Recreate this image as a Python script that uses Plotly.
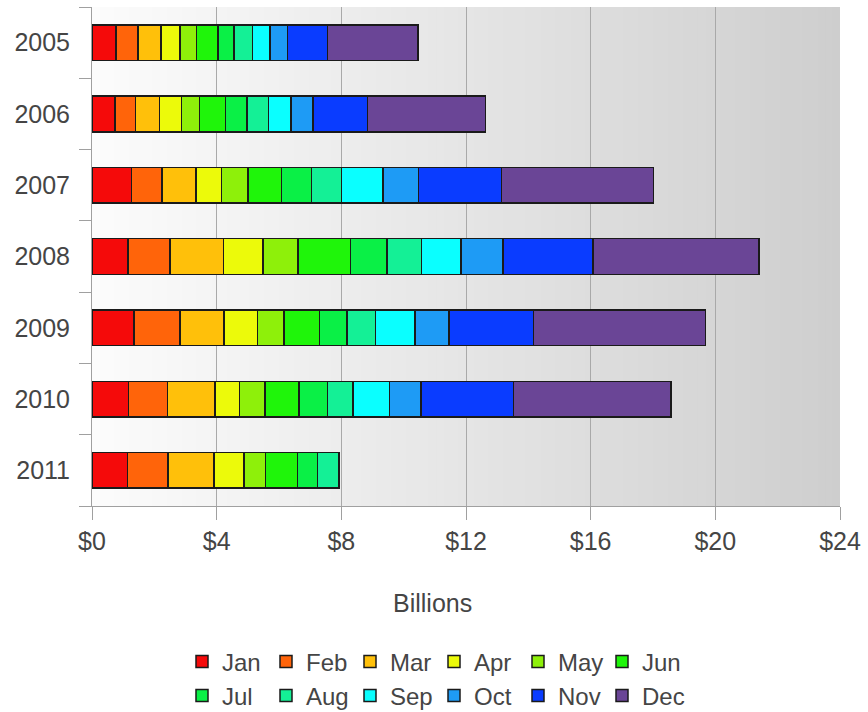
import plotly.graph_objects as go

years = ["2005", "2006", "2007", "2008", "2009", "2010", "2011"]
months = ["Jan", "Feb", "Mar", "Apr", "May", "Jun", "Jul", "Aug", "Sep", "Oct", "Nov", "Dec"]

# monthly values (billions) per year, Jan..Dec
v2005 = [0.77, 0.71, 0.73, 0.62, 0.52, 0.69, 0.51, 0.60, 0.56, 0.56, 1.29, 2.90]
v2006 = [0.74, 0.66, 0.77, 0.70, 0.58, 0.83, 0.70, 0.68, 0.73, 0.70, 1.75, 3.78]
v2007 = [1.27, 0.98, 1.08, 0.83, 0.84, 1.08, 0.96, 0.96, 1.34, 1.14, 2.66, 4.88]
v2008 = [1.16, 1.35, 1.71, 1.27, 1.12, 1.68, 1.17, 1.12, 1.26, 1.35, 2.88, 5.33]
v2009 = [1.35, 1.47, 1.41, 1.08, 0.85, 1.14, 0.88, 0.91, 1.28, 1.09, 2.70, 5.53]
v2010 = [1.17, 1.25, 1.53, 0.78, 0.82, 1.09, 0.91, 0.82, 1.17, 1.02, 2.97, 5.04]
v2011 = [1.14, 1.30, 1.47, 0.96, 0.69, 1.03, 0.64, 0.70, None, None, None, None]

by_year = [v2005, v2006, v2007, v2008, v2009, v2010, v2011]

x_ticks = [0, 4, 8, 12, 16, 20, 24]
x_tick_labels = ["$0", "$4", "$8", "$12", "$16", "$20", "$24"]

colors = ["#f50a0a", "#ff640a", "#ffc00a", "#ecfa0a", "#8ef00a", "#1ff50a",
          "#0af046", "#14f096", "#0affff", "#1e9bf5", "#0a3cff", "#6a4596"]

FONT = "Liberation Sans, Arial, sans-serif"
TXT = "#454545"

fig = go.Figure()
ypos = list(range(len(years)))
for mi, m in enumerate(months):
    fig.add_trace(go.Bar(
        name=m,
        y=ypos,
        x=[by_year[yi][mi] for yi in range(len(years))],
        orientation="h",
        width=0.5,
        marker=dict(color=colors[mi], line=dict(color="#1a1a1a", width=1.5)),
        legend="legend" if mi < 6 else "legend2",
        hovertemplate=m + " %{customdata}: $%{x}B<extra></extra>",
        customdata=years,
    ))

# background gradient (white -> gray, left to right); strips overlap to avoid seams
N = 100
for i in range(N):
    t = (i + 0.5) / N
    c = int(round(252 - t * (252 - 206)))
    x1 = min(24.0, 24 * (i + 2) / N)
    fig.add_shape(type="rect", xref="x", yref="paper",
                  x0=24 * i / N, x1=x1, y0=0, y1=1,
                  fillcolor=f"rgb({c},{c},{c})", line=dict(width=0), layer="below")

legend_common = dict(orientation="h", xref="container", x=0.5, xanchor="center",
                     yref="container", yanchor="middle",
                     font=dict(size=24, color=TXT), entrywidth=39, itemwidth=30,
                     traceorder="normal", bgcolor="rgba(0,0,0,0)")

fig.update_layout(
    width=868, height=712,
    margin=dict(l=92, r=25, t=7, b=206),
    paper_bgcolor="white",
    plot_bgcolor="white",
    barmode="stack",
    font=dict(family=FONT, size=25, color=TXT),
    showlegend=True,
    legend=dict(legend_common, y=1 - 662 / 712),
    legend2=dict(legend_common, y=1 - 696 / 712),
    xaxis=dict(range=[0, 24], tickvals=x_ticks, ticktext=x_tick_labels,
               showgrid=True, gridcolor="#a9a9a9", gridwidth=1,
               zeroline=False, showline=True, linecolor="#a0a0a0", linewidth=1,
               ticks="outside", ticklen=13, tickcolor="#a0a0a0",
               tickfont=dict(size=25, color=TXT)),
    yaxis=dict(range=[6.5, -0.5], tickvals=ypos, ticktext=years,
               showgrid=False, zeroline=False, showline=True,
               linecolor="#a0a0a0", linewidth=1,
               ticks="outside", ticklen=16, tickcolor="rgba(0,0,0,0)",
               tickfont=dict(size=25, color=TXT),
               minor=dict(tick0=0.5, dtick=1, ticks="outside", ticklen=12,
                          tickcolor="#a0a0a0", showgrid=False)),
    annotations=[dict(text="Billions", xref="paper", yref="paper",
                      x=(434 - 92) / 751, y=(506 - 603) / 499,
                      xanchor="center", yanchor="middle", showarrow=False,
                      font=dict(size=25, color=TXT))],
)

fig.write_html("out.html")
